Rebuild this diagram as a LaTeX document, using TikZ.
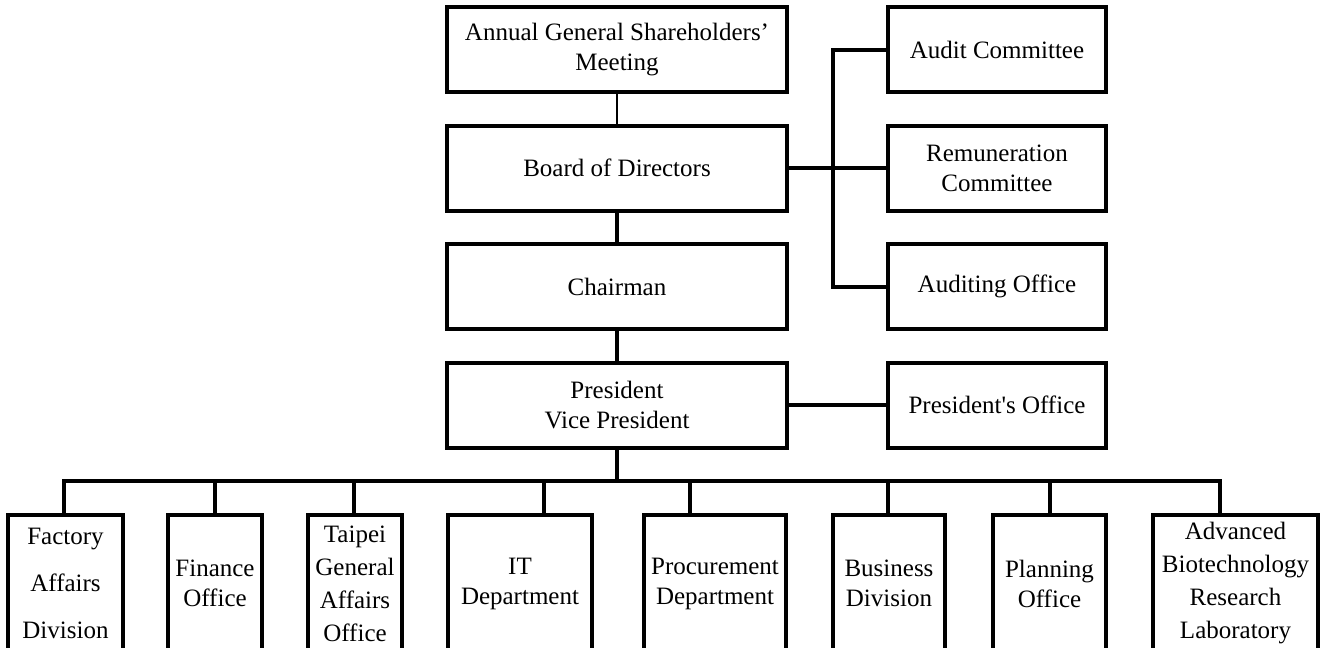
\documentclass[tikz,border=0pt]{standalone}
\usepackage{fontspec}
\setmainfont{Liberation Serif}
\tikzset{
  box/.style={rectangle, draw=black, line width=2pt, inner sep=1pt, align=center,
    font=\fontsize{12.5pt}{15pt}\selectfont},
  link/.style={line width=2pt, color=black},
}

\begin{document}
\begin{tikzpicture}[x=0.5pt, y=-0.5pt]
\useasboundingbox (0,0) rectangle (1324,648);
% top column
\node (1) [box, minimum width=170pt, minimum height=42.5pt] at (617, 49.5) {Annual General Shareholders'\\Meeting};
\node (2) [box, minimum width=170pt, minimum height=42.5pt] at (617, 168) {Board of Directors};
\node (3) [box, minimum width=170pt, minimum height=42.5pt] at (617, 286.5) {Chairman};
\node (4) [box, minimum width=170pt, minimum height=42.5pt] at (617, 405) {President\\Vice President};
% right column
\node (5) [box, minimum width=109pt, minimum height=42.5pt] at (997, 49.5) {Audit Committee};
\node (6) [box, minimum width=109pt, minimum height=42.5pt] at (997, 168) {Remuneration\\Committee};
\node (7) [box, minimum width=109pt, minimum height=42.5pt] at (997, 286.5) {Auditing Office};
\node (8) [box, minimum width=109pt, minimum height=42.5pt] at (997, 405) {President\textquotesingle s Office};
% bottom row
\node (9) [box, minimum width=57.5pt, minimum height=68.5pt, font=\fontsize{12.5pt}{23.5pt}\selectfont] at (65.5, 583.5) {Factory\\Affairs\\Division};
\node (10) [box, minimum width=47pt, minimum height=68.5pt] at (215, 583.5) {Finance\\Office};
\node (11) [box, minimum width=47pt, minimum height=68.5pt, font=\fontsize{12.5pt}{16.5pt}\selectfont] at (355, 583.5) {Taipei\\General\\Affairs\\Office};
\node (12) [box, minimum width=72pt, minimum height=68.5pt] at (520, 583.5) {IT\\Department};
\node (13) [box, minimum width=71pt, minimum height=68.5pt] at (715, 583.5) {Procurement\\Department};
\node (14) [box, minimum width=56pt, minimum height=68.5pt] at (889, 583.5) {Business\\Division};
\node (15) [box, minimum width=56.5pt, minimum height=68.5pt] at (1049.5, 583.5) {Planning\\Office};
\node (16) [box, minimum width=82.5pt, minimum height=68.5pt, font=\fontsize{12.5pt}{16.5pt}\selectfont] at (1235.5, 583.5) {Advanced\\Biotechnology\\Research\\Laboratory};
\coordinate (r) at (833, 168);
\coordinate (t) at (617, 481);
\coordinate (c9) at (64, 481);
\coordinate (c10) at (215, 481);
\coordinate (c11) at (354, 481);
\coordinate (c12) at (544, 481);
\coordinate (c13) at (690, 481);
\coordinate (c14) at (888, 481);
\coordinate (c15) at (1050, 481);
\coordinate (c16) at (1220, 481);
\draw [link, line width=0.65pt] (1) to (2);
\draw [link] (2) to (3);
\draw [link] (3) to (4);
\draw [link] (2) to (6);
\draw [link] (5.west) -| (r) |- (7.west);
\draw [link] (4) to (8);
\draw [link] (4) to (t);
\draw [link] (c9 |- 9.north) -- (c9) -- (c16) -- (c16 |- 16.north);
\draw [link] (c10) to (c10 |- 10.north);
\draw [link] (c11) to (c11 |- 11.north);
\draw [link] (c12) to (c12 |- 12.north);
\draw [link] (c13) to (c13 |- 13.north);
\draw [link] (c14) to (c14 |- 14.north);
\draw [link] (c15) to (c15 |- 15.north);
\end{tikzpicture}
\end{document}
